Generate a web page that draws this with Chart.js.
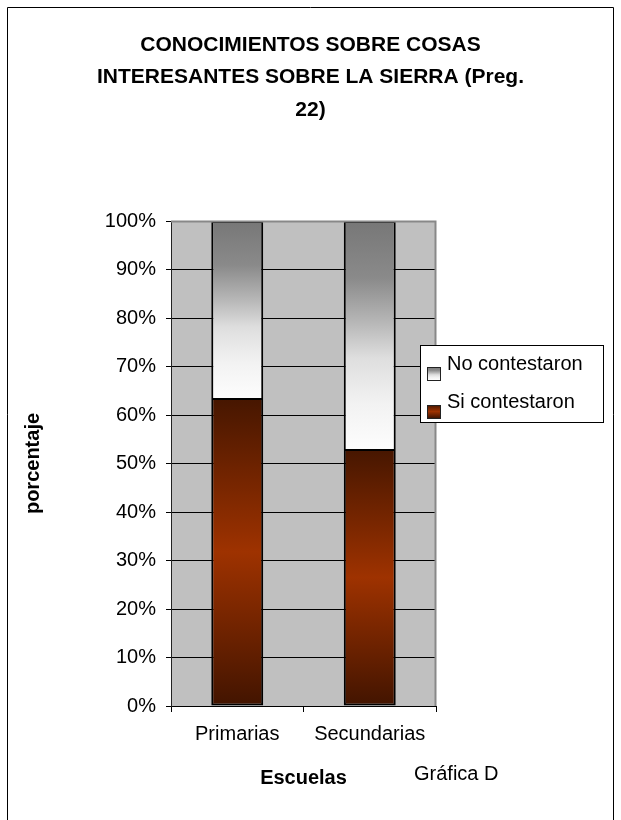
<!DOCTYPE html>
<html><head><meta charset="utf-8">
<script src="https://cdn.jsdelivr.net/npm/chart.js@4/dist/chart.umd.min.js"></script>
<style>html,body{margin:0;padding:0;background:#fff}#wrap{width:621px;height:820px;position:relative}</style>
</head><body><div id="wrap"><canvas id="c" width="621" height="820"></canvas></div>
<script>
const categories = ['Primarias', 'Secundarias'];
const siContestaron = [63.5, 53];
const noContestaron = [36.5, 47];
const seriesLabels = ['Si contestaron', 'No contestaron'];
const titleLines = ['CONOCIMIENTOS SOBRE COSAS', 'INTERESANTES SOBRE LA SIERRA (Preg.', '22)'];
const yAxisTitle = 'porcentaje';
const xAxisTitle = 'Escuelas';
const footNote = 'Gráfica D';

const FONT = "'Liberation Sans', Arial, sans-serif";

function barBounds(chart, dsIndex, i) {
  const y = chart.scales.y;
  let base = 0, top;
  if (dsIndex === 0) { top = siContestaron[i]; }
  else { base = siContestaron[i]; top = siContestaron[i] + noContestaron[i]; }
  return [y.getPixelForValue(top), y.getPixelForValue(base)];
}

function siGrad(ctx, y0, y1) {
  const g = ctx.createLinearGradient(0, y0, 0, y1);
  g.addColorStop(0, '#461600');
  g.addColorStop(0.5, '#9e3200');
  g.addColorStop(1, '#421400');
  return g;
}
function noGrad(ctx, y0, y1) {
  const g = ctx.createLinearGradient(0, y0, 0, y1);
  g.addColorStop(0, '#777777');
  g.addColorStop(0.25, '#8a8a8a');
  g.addColorStop(0.45, '#b8b8b8');
  g.addColorStop(0.6, '#dedede');
  g.addColorStop(0.8, '#f2f2f2');
  g.addColorStop(1, '#fdfdfd');
  return g;
}

function scriptBg(dsIndex) {
  return function (c) {
    const chart = c.chart;
    if (!chart.chartArea || c.dataIndex === undefined) return dsIndex === 0 ? '#8a2c00' : '#dddddd';
    const [t, b] = barBounds(chart, dsIndex, c.dataIndex);
    return dsIndex === 0 ? siGrad(chart.ctx, t, b) : noGrad(chart.ctx, t, b);
  };
}

const decor = {
  id: 'decor',
  beforeDraw(chart) {
    const {ctx, chartArea: a} = chart;
    ctx.save();
    ctx.fillStyle = '#c0c0c0';
    ctx.fillRect(a.left, a.top, a.right - a.left, a.bottom - a.top);
    ctx.restore();
  },
  afterDraw(chart) {
    const {ctx, chartArea: a} = chart;
    ctx.save();
    // plot right/top border
    ctx.strokeStyle = '#888888';
    ctx.lineWidth = 2;
    ctx.beginPath();
    ctx.moveTo(a.left, a.top + 0.5);
    ctx.lineTo(a.right - 0.5, a.top + 0.5);
    ctx.lineTo(a.right - 0.5, a.bottom);
    ctx.stroke();
    // title
    ctx.fillStyle = '#000';
    ctx.font = 'bold 21px ' + FONT;
    ctx.textAlign = 'center';
    ctx.textBaseline = 'middle';
    titleLines.forEach((l, k) => ctx.fillText(l, 310.5, 45 + k * 32.5));
    // frame
    ctx.strokeStyle = '#000';
    ctx.lineWidth = 1;
    ctx.beginPath();
    ctx.moveTo(7.5, 830);
    ctx.lineTo(7.5, 7.5);
    ctx.lineTo(613.5, 7.5);
    ctx.lineTo(613.5, 830);
    ctx.stroke();
    // legend
    const lx = 420.5, ly = 345.5, lw = 183, lh = 77;
    ctx.fillStyle = '#fff';
    ctx.fillRect(lx, ly, lw, lh);
    ctx.strokeStyle = '#000';
    ctx.strokeRect(lx, ly, lw, lh);
    ctx.font = '20px ' + FONT;
    ctx.textAlign = 'left';
    ctx.textBaseline = 'middle';
    const order = [1, 0];
    order.forEach((ds, k) => {
      const cy = 364 + k * 38;
      const sx = 427, sy = cy + 3;
      ctx.fillStyle = ds === 0 ? siGrad(ctx, sy, sy + 13) : noGrad(ctx, sy, sy + 13);
      ctx.fillRect(sx, sy, 13, 13);
      ctx.strokeStyle = '#222';
      ctx.lineWidth = 1;
      ctx.strokeRect(sx + 0.5, sy + 0.5, 13, 13);
      ctx.fillStyle = '#000';
      ctx.fillText(chart.data.datasets[ds].label, 447, cy);
    });
    // footnote
    ctx.font = '20px ' + FONT;
    ctx.textBaseline = 'alphabetic';
    ctx.fillText(footNote, 414, 780);
    ctx.restore();
  }
};

new Chart(document.getElementById('c'), {
  type: 'bar',
  data: {
    labels: categories,
    datasets: [
      { label: seriesLabels[0], data: siContestaron, backgroundColor: scriptBg(0), borderColor: '#000', borderWidth: 2, borderSkipped: false, categoryPercentage: 1, barPercentage: 0.392 },
      { label: seriesLabels[1], data: noContestaron, backgroundColor: scriptBg(1), borderColor: '#000', borderWidth: 2, borderSkipped: 'bottom', categoryPercentage: 1, barPercentage: 0.392 }
    ]
  },
  options: {
    responsive: false,
    animation: false,
    devicePixelRatio: 1,
    layout: { padding: { top: 221, left: 0, right: 0, bottom: 0 } },
    plugins: { legend: { display: false }, title: { display: false }, tooltip: { enabled: false } },
    scales: {
      x: {
        stacked: true,
        grid: { offset: true, drawOnChartArea: false, drawTicks: true, tickLength: 6, color: '#000' },
        border: { display: true, color: '#000', width: 1 },
        ticks: { color: '#000', font: { family: FONT, size: 20 }, padding: 10, maxRotation: 0 },
        title: { display: true, text: xAxisTitle, color: '#000', font: { family: FONT, size: 20, weight: 'bold' }, padding: { top: 0, bottom: 30 } },
        afterFit(s) { s.height = 114; }
      },
      y: {
        stacked: true, min: 0, max: 100,
        grid: { color: (c) => (c.tick && c.tick.value === 100 ? 'rgba(0,0,0,0)' : '#000'), tickColor: '#000', tickLength: 5, drawTicks: true },
        border: { display: true, color: '#222', width: 1 },
        ticks: { stepSize: 10, color: '#000', font: { family: FONT, size: 20 }, padding: 10, callback: (v) => v + '%' },
        title: { display: true, text: yAxisTitle, color: '#000', font: { family: FONT, size: 20, weight: 'bold' }, padding: { top: 21, bottom: 0 } },
        afterFit(s) { s.width = 171; }
      },
      r: {
        type: 'linear', position: 'right', display: true,
        grid: { display: false, drawTicks: false }, border: { display: false },
        ticks: { display: false },
        afterFit(s) { s.width = 185; }
      }
    }
  },
  plugins: [decor]
});
</script></body></html>
